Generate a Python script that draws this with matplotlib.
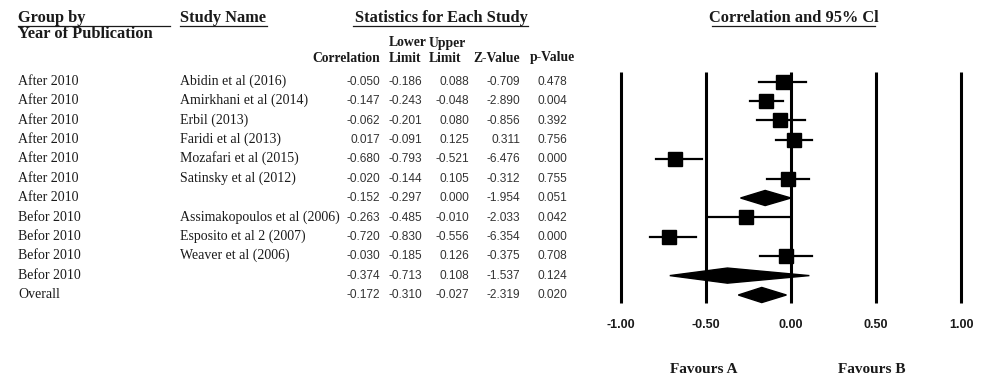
import matplotlib
matplotlib.use("Agg")
import matplotlib.pyplot as plt
from matplotlib.patches import Polygon
from matplotlib.transforms import blended_transform_factory

# data
groups = ["After 2010"] * 7 + ["Befor 2010"] * 4 + ["Overall"]
studies = ["Abidin et al (2016)", "Amirkhani et al (2014)", "Erbil (2013)",
           "Faridi et al (2013)", "Mozafari et al (2015)", "Satinsky et al (2012)", "",
           "Assimakopoulos et al (2006)", "Esposito et al 2 (2007)", "Weaver et al (2006)", "",
           ""]
corr = [-0.050, -0.147, -0.062, 0.017, -0.680, -0.020, -0.152,
        -0.263, -0.720, -0.030, -0.374, -0.172]
lower = [-0.186, -0.243, -0.201, -0.091, -0.793, -0.144, -0.297,
         -0.485, -0.830, -0.185, -0.713, -0.310]
upper = [0.088, -0.048, 0.080, 0.125, -0.521, 0.105, 0.000,
         -0.010, -0.556, 0.126, 0.108, -0.027]
zval = [-0.709, -2.890, -0.856, 0.311, -6.476, -0.312, -1.954,
        -2.033, -6.354, -0.375, -1.537, -2.319]
pval = [0.478, 0.004, 0.392, 0.756, 0.000, 0.755, 0.051,
        0.042, 0.000, 0.708, 0.124, 0.020]
is_summary = [False] * 6 + [True] + [False] * 3 + [True, True]
ticks = [-1.0, -0.5, 0.0, 0.5, 1.0]

W, H = 1000, 388
fig = plt.figure(figsize=(W / 100, H / 100), dpi=100)

serif = "Liberation Serif"
sans = "Liberation Sans"
ink = "#1a1a1a"

# forest axes: x=-1 at px 621, x=1 at px 961; rows at 81.6 + 19.4*i
top, bot = 71.9, 304.7
ax = fig.add_axes([621 / W, 1 - bot / H, 340 / W, (bot - top) / H])
ax.set_xlim(-1, 1)
ax.set_ylim(11.5, -0.5)
for s in ax.spines.values():
    s.set_visible(False)
ax.set_yticks([])
ax.set_xticks(ticks)
ax.set_xticklabels(["%.2f" % t for t in ticks], fontfamily=sans,
                   fontweight="bold", fontsize=9, color=ink)
ax.tick_params(axis="x", length=0, pad=10)

ax.vlines(ticks, -0.5, 11.4, color="black", lw=2.2, zorder=1, clip_on=False)

n = len(corr)
for i in range(n):
    if is_summary[i]:
        h = 0.39
        poly = Polygon([[lower[i], i], [corr[i], i - h], [upper[i], i], [corr[i], i + h]],
                       closed=True, color="black", zorder=3, clip_on=False)
        ax.add_patch(poly)
    else:
        ax.plot([lower[i], upper[i]], [i, i], color="black", lw=1.6, zorder=2)
        ax.plot(corr[i], i, marker="s", ms=10.5, color="black", zorder=3)

# table text, x in figure pixels, y in row coordinates (baseline a bit below row centre)
tr = blended_transform_factory(fig.transFigure, ax.transData)
def fx(px):
    return px / W

base = 0.16
num_cols = [380, 422, 469, 520, 567]
for i in range(n):
    ax.text(fx(18), i + base, groups[i], transform=tr, ha="left", va="baseline",
            fontfamily=serif, fontsize=10, color=ink, clip_on=False)
    ax.text(fx(180), i + base, studies[i], transform=tr, ha="left", va="baseline",
            fontfamily=serif, fontsize=10, color=ink, clip_on=False)
    vals = [corr[i], lower[i], upper[i], zval[i], pval[i]]
    for px, v in zip(num_cols, vals):
        ax.text(fx(px), i + base, "%.3f" % v, transform=tr, ha="right", va="baseline",
                fontfamily=sans, fontsize=8.6, color="#333333", clip_on=False)

# headers (py = baseline in pixels from top)
def header(px, py, txt, ha="left", size=11.8):
    fig.text(px / W, 1 - py / H, txt, ha=ha, va="baseline", fontfamily=serif,
             fontweight="bold", fontsize=size, color=ink)

header(18, 22, "Group by")
header(18, 38, "Year of Publication")
header(180, 22, "Study Name")
header(441, 22.5, "Statistics for Each Study", ha="center")
header(794, 21.5, "Correlation and 95% Cl", ha="center")
for x0, x1 in [(18, 170), (180, 267), (353, 528), (712, 875)]:
    fig.add_artist(plt.Line2D([x0 / W, x1 / W], [1 - 25.5 / H] * 2, color=ink, lw=0.9))

hs = 9.8
header(389, 46.5, "Lower", size=hs)
header(429, 46.5, "Upper", size=hs)
header(380, 61.5, "Correlation", ha="right", size=hs)
header(389, 61.5, "Limit", size=hs)
header(429, 61.5, "Limit", size=hs)
header(497, 61.5, "Z-Value", ha="center", size=hs)
header(552, 61.5, "p-Value", ha="center", size=hs)

header(704, 373, "Favours A", ha="center", size=11)
header(872, 373, "Favours B", ha="center", size=11)

fig.savefig("out.png", dpi=100)
